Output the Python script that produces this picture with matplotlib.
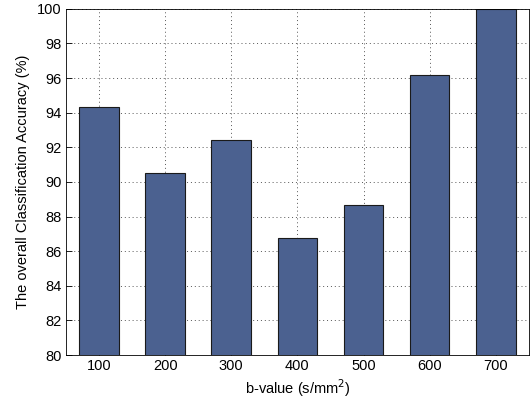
import matplotlib
matplotlib.use("Agg")
import matplotlib.pyplot as plt

# ---------- data ----------
b_values = ["100", "200", "300", "400", "500", "600", "700"]
accuracy = [94.35, 90.53, 92.43, 86.78, 88.67, 96.2, 100.0]

plt.rcParams["font.family"] = ["Liberation Sans", "DejaVu Sans"]

fig = plt.figure(figsize=(5.32, 4.03), dpi=100)
ax = fig.add_axes([0.124, 0.119, 0.870, 0.859])

x = range(1, len(b_values) + 1)
ax.bar(x, accuracy, width=0.6, color="#4b6190", edgecolor="#1a1a1a", linewidth=0.8, zorder=3)

ax.set_xlim(0.5, 7.5)
ax.set_ylim(80, 100)
ax.set_xticks(list(x))
ax.set_xticklabels(b_values)
ax.set_yticks(range(80, 101, 2))

ax.grid(True, linestyle=(0, (1, 3)), color="#555555", linewidth=0.7, zorder=0)
ax.tick_params(direction="in", labelsize=10.5, length=4, width=0.6, pad=3)
for s in ax.spines.values():
    s.set_linewidth(0.6)
    s.set_zorder(4)

ax.set_xlabel("b-value (s/mm$^2$)", fontsize=10.5, labelpad=3)
ax.set_ylabel("The overall Classification Accuracy (%)", fontsize=10.5, labelpad=5)

fig.savefig("out.png", dpi=100)
